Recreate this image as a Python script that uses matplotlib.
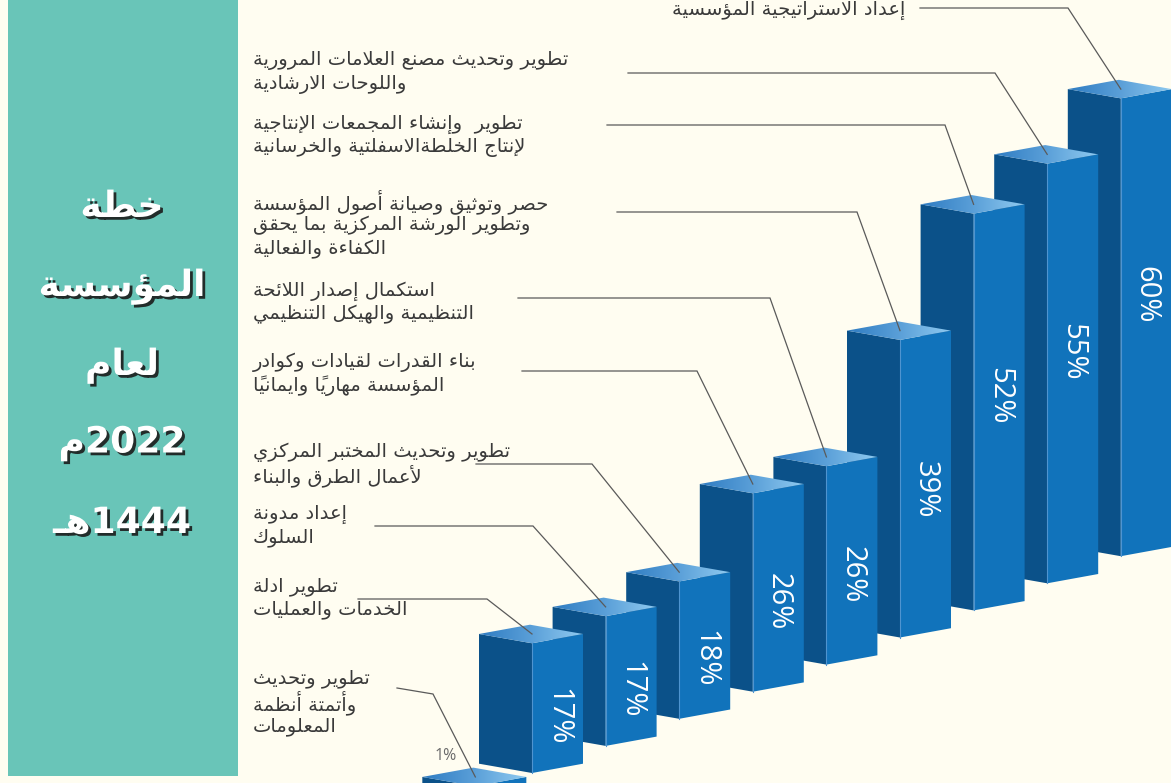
import numpy as np
import matplotlib
matplotlib.use("Agg")
import matplotlib.pyplot as plt
from matplotlib.patches import Polygon, Rectangle
from matplotlib.colors import LinearSegmentedColormap
import matplotlib.patheffects as pe

# ---------------- data ----------------
values = [1, 17, 17, 18, 26, 26, 39, 52, 55, 60]
value_labels = ["1%", "17%", "17%", "18%", "26%", "26%", "39%", "52%", "55%", "60%"]
categories = [
    "تطوير وتحديث\nوأتمتة أنظمة\nالمعلومات",
    "تطوير ادلة\nالخدمات والعمليات",
    "إعداد مدونة\nالسلوك",
    "تطوير وتحديث المختبر المركزي\nلأعمال الطرق والبناء",
    "بناء القدرات لقيادات وكوادر\nالمؤسسة مهارياً وايمانياً",
    "استكمال إصدار اللائحة\nالتنظيمية والهيكل التنظيمي",
    "حصر وتوثيق وصيانة أصول المؤسسة\nوتطوير الورشة المركزية بما يحقق\nالكفاءة والفعالية",
    "تطوير  وإنشاء المجمعات الإنتاجية\nلإنتاج الخلطةالاسفلتية والخرسانية",
    "تطوير وتحديث مصنع العلامات المرورية\nواللوحات الارشادية",
    "إعداد الاستراتيجية المؤسسية",
]
title_lines = ["خطة", "المؤسسة", "لعام", "2022م", "1444هـ"]

# ---------------- Arabic shaping (presentation forms + visual order) ----------------
_F = {
    0x0621: (0xFE80, None, None, None),
    0x0622: (0xFE81, 0xFE82, None, None),
    0x0623: (0xFE83, 0xFE84, None, None),
    0x0624: (0xFE85, 0xFE86, None, None),
    0x0625: (0xFE87, 0xFE88, None, None),
    0x0626: (0xFE89, 0xFE8A, 0xFE8B, 0xFE8C),
    0x0627: (0xFE8D, 0xFE8E, None, None),
    0x0628: (0xFE8F, 0xFE90, 0xFE91, 0xFE92),
    0x0629: (0xFE93, 0xFE94, None, None),
    0x062A: (0xFE95, 0xFE96, 0xFE97, 0xFE98),
    0x062B: (0xFE99, 0xFE9A, 0xFE9B, 0xFE9C),
    0x062C: (0xFE9D, 0xFE9E, 0xFE9F, 0xFEA0),
    0x062D: (0xFEA1, 0xFEA2, 0xFEA3, 0xFEA4),
    0x062E: (0xFEA5, 0xFEA6, 0xFEA7, 0xFEA8),
    0x062F: (0xFEA9, 0xFEAA, None, None),
    0x0630: (0xFEAB, 0xFEAC, None, None),
    0x0631: (0xFEAD, 0xFEAE, None, None),
    0x0632: (0xFEAF, 0xFEB0, None, None),
    0x0633: (0xFEB1, 0xFEB2, 0xFEB3, 0xFEB4),
    0x0634: (0xFEB5, 0xFEB6, 0xFEB7, 0xFEB8),
    0x0635: (0xFEB9, 0xFEBA, 0xFEBB, 0xFEBC),
    0x0636: (0xFEBD, 0xFEBE, 0xFEBF, 0xFEC0),
    0x0637: (0xFEC1, 0xFEC2, 0xFEC3, 0xFEC4),
    0x0638: (0xFEC5, 0xFEC6, 0xFEC7, 0xFEC8),
    0x0639: (0xFEC9, 0xFECA, 0xFECB, 0xFECC),
    0x063A: (0xFECD, 0xFECE, 0xFECF, 0xFED0),
    0x0640: (0x0640, 0x0640, 0x0640, 0x0640),
    0x0641: (0xFED1, 0xFED2, 0xFED3, 0xFED4),
    0x0642: (0xFED5, 0xFED6, 0xFED7, 0xFED8),
    0x0643: (0xFED9, 0xFEDA, 0xFEDB, 0xFEDC),
    0x0644: (0xFEDD, 0xFEDE, 0xFEDF, 0xFEE0),
    0x0645: (0xFEE1, 0xFEE2, 0xFEE3, 0xFEE4),
    0x0646: (0xFEE5, 0xFEE6, 0xFEE7, 0xFEE8),
    0x0647: (0xFEE9, 0xFEEA, 0xFEEB, 0xFEEC),
    0x0648: (0xFEED, 0xFEEE, None, None),
    0x0649: (0xFEEF, 0xFEF0, None, None),
    0x064A: (0xFEF1, 0xFEF2, 0xFEF3, 0xFEF4),
}
_LAMALEF = {0x0622: (0xFEF5, 0xFEF6), 0x0623: (0xFEF7, 0xFEF8),
            0x0625: (0xFEF9, 0xFEFA), 0x0627: (0xFEFB, 0xFEFC)}


def _is_mark(c):
    o = ord(c)
    return 0x064B <= o <= 0x065F or o == 0x0670


def _joins_next(c):
    f = _F.get(ord(c))
    return f is not None and f[2] is not None


def _joins_prev(c):
    f = _F.get(ord(c))
    return f is not None and f[1] is not None


def _shape_line(s):
    chars = list(s)
    n = len(chars)

    def prev_base(i):
        j = i - 1
        while j >= 0 and _is_mark(chars[j]):
            j -= 1
        return j

    def next_base(i):
        j = i + 1
        while j < n and _is_mark(chars[j]):
            j += 1
        return j

    clusters = []
    skip = set()
    for i, c in enumerate(chars):
        if i in skip:
            continue
        if _is_mark(c):
            if clusters:
                clusters[-1].append(c)
            else:
                clusters.append([c])
            continue
        o = ord(c)
        if o not in _F:
            clusters.append([c])
            continue
        p = prev_base(i)
        q = next_base(i)
        cp = p >= 0 and _joins_next(chars[p]) and _joins_prev(c)
        if o == 0x0644 and q < n and ord(chars[q]) in _LAMALEF:
            lig = _LAMALEF[ord(chars[q])][1 if cp else 0]
            skip.add(q)
            clusters.append([chr(lig)])
            continue
        cn = q < n and _joins_next(c) and _joins_prev(chars[q])
        iso, fin, ini, med = _F[o]
        if cp and cn:
            g = med
        elif cp:
            g = fin
        elif cn:
            g = ini
        else:
            g = iso
        clusters.append([chr(g)])
    clusters.reverse()
    # keep digit runs left-to-right
    out = []
    k = 0
    while k < len(clusters):
        if clusters[k][0].isdigit() or clusters[k][0] in "%.":
            run = []
            while k < len(clusters) and (clusters[k][0].isdigit() or clusters[k][0] in "%."):
                run.append(clusters[k])
                k += 1
            out.extend(reversed(run))
        else:
            out.append(clusters[k])
            k += 1
    return "".join("".join(c) for c in out)


def ar(s):
    return "\n".join(_shape_line(line) for line in s.split("\n"))


# ---------------- figure ----------------
W, H = 1171, 783
BG = "#fffdf1"
fig = plt.figure(figsize=(W / 100, H / 100), dpi=100, facecolor=BG)
ax = fig.add_axes([0, 0, 1, 1])
ax.set_xlim(0, W)
ax.set_ylim(H, 0)
ax.axis("off")
ax.set_facecolor(BG)

# left teal panel with title
ax.add_patch(Rectangle((8, 0), 230, 776, facecolor="#69c5b8", edgecolor="none", zorder=1))
title_y = [207, 287, 366, 444, 523]
for t, ty in zip(title_lines, title_y):
    ax.text(122, ty, ar(t), ha="center", va="center", fontsize=26, fontweight="bold",
            color="white", family=["DejaVu Sans"], zorder=3,
            path_effects=[pe.withSimplePatchShadow(offset=(2, -2), shadow_rgbFace="#1b1b1b", alpha=0.9)])

# ---------------- 3D bars ----------------
slots = [0.23, 1, 2, 3, 4, 5, 6, 7, 8, 9]
FX1, FY1, DX, DY = 532.0, 773.0, 73.6, 27.1
K = 7.63          # pixels per percent
WL, WR, SK = 53.0, 51.0, 9.3

C_LEFT = "#0b5189"
C_RIGHT = "#1173bb"
top_cmap = LinearSegmentedColormap.from_list("top", ["#2f7cc2", "#5a9fd8", "#8fcaf0"])
grad = np.linspace(0, 1, 256).reshape(1, -1)

tops = []
for i in range(len(values) - 1, -1, -1):
    s = slots[i]
    fx = FX1 + (s - 1) * DX
    fb = FY1 - (s - 1) * DY
    ft = fb - values[i] * K
    z = 10 + (len(values) - i) * 3
    left = [(fx - WL, ft - SK), (fx, ft), (fx, fb), (fx - WL, fb - SK)]
    right = [(fx, ft), (fx + WR, ft - SK), (fx + WR, fb - SK), (fx, fb)]
    top = [(fx - WL, ft - SK), (fx - WL + WR, ft - 2 * SK), (fx + WR, ft - SK), (fx, ft)]
    ax.add_patch(Polygon(left, closed=True, facecolor=C_LEFT, edgecolor="none", zorder=z))
    ax.add_patch(Polygon(right, closed=True, facecolor=C_RIGHT, edgecolor="none", zorder=z))
    tp = Polygon(top, closed=True, facecolor="none", edgecolor="none", zorder=z + 1)
    ax.add_patch(tp)
    im = ax.imshow(grad, cmap=top_cmap, aspect="auto", interpolation="bilinear",
                   extent=(fx - WL, fx + WR, ft, ft - 2 * SK), zorder=z + 1)
    im.set_clip_path(tp)
    ax.plot([fx, fx], [ft, fb], color="#4f94d0", lw=0.8, zorder=z + 1)
    tops.append((i, fx, ft - SK))
    if values[i] >= 10:
        frac = 0.666 - 0.00377 * values[i]
        ty = ft + frac * (fb - ft) - SK / 2
        ax.text(fx + WR / 2, ty, value_labels[i], rotation=-90, ha="center", va="center",
                fontsize=21, color="white", family=["Open Sans", "DejaVu Sans"], zorder=z + 2)
    else:
        ax.text(fx - 30, ft - 30, value_labels[i], ha="center", va="center",
                fontsize=11.5, color="#6b6b6b", family=["Open Sans", "DejaVu Sans"], zorder=z + 2)

ax.set_xlim(0, W)
ax.set_ylim(H, 0)

# ---------------- labels and leader lines ----------------
label_x = 253
label_y = [679, 586, 514, 452, 362, 291, 202, 124, 61, 10]
line_y = [688, 599, 526, 464, 371, 298, 212, 125, 73, 8]
line_x0 = [397, 358, 375, 476, 522, 518, 617, 607, 628, 920]
line_xk = [433, 487, 533, 592, 697, 770, 857, 945, 995, 1068]
line_yk = [694, 599, 526, 464, 371, 298, 212, 125, 73, 8]
LS = 23.8
FS = 14
end_of_tops = {i: (fx, ty) for i, fx, ty in tops}
for i, cat in enumerate(categories):
    lines = cat.split("\n")
    for k, ln in enumerate(lines):
        if i == len(categories) - 1:
            ax.text(905, label_y[i] + k * LS, ar(ln), ha="right", va="center", fontsize=FS,
                    color="#3a3a3a", family=["DejaVu Sans"], zorder=50)
        else:
            ax.text(label_x, label_y[i] + k * LS, ar(ln), ha="left", va="center", fontsize=FS,
                    color="#3a3a3a", family=["DejaVu Sans"], zorder=50)
    ex, ey = end_of_tops[i]
    ax.plot([line_x0[i], line_xk[i], ex], [line_y[i], line_yk[i], ey],
            color="#5a5a5a", lw=0.9, zorder=60, solid_joinstyle="miter")

fig.savefig("out.png", dpi=100, facecolor=BG)
